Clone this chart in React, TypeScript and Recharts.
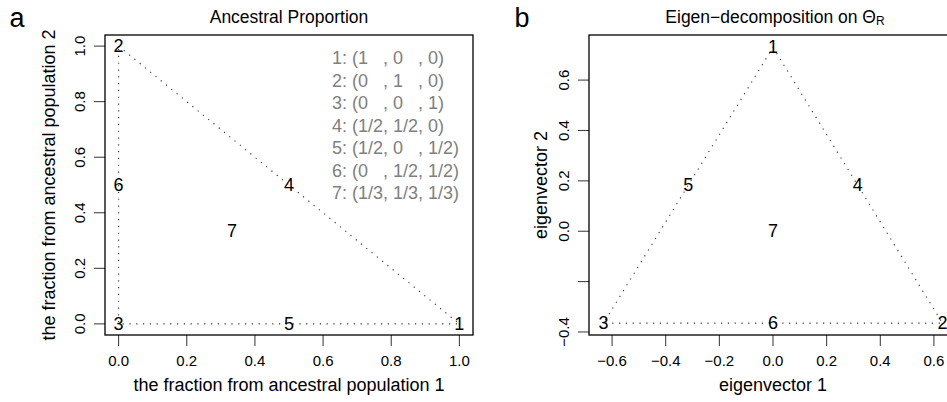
import { ScatterChart, Scatter, XAxis, YAxis } from "recharts";

// panel a: ancestral proportions
const ancLabels = ["1", "2", "3", "4", "5", "6", "7"];
const ancX = [1, 0, 0, 0.5, 0.5, 0, 0.333];
const ancY = [0, 1, 0, 0.5, 0, 0.5, 0.333];
const ancEdges = [1, 0, 2, 1]; // 2 -> 1 -> 3 -> 2
const ancTicks = [0, 0.2, 0.4, 0.6, 0.8, 1.0];

// panel b: eigen-decomposition
const eigLabels = ["1", "2", "3", "4", "5", "6", "7"];
const eigX = [0, 0.632, -0.632, 0.316, -0.316, 0, 0];
const eigY = [0.73, -0.365, -0.365, 0.1825, 0.1825, -0.365, 0];
const eigEdges = [0, 1, 2, 0];
const eigXTicks = [-0.6, -0.4, -0.2, 0, 0.2, 0.4, 0.6];
const eigYTicks = [-0.4, -0.2, 0, 0.2, 0.4, 0.6];
const eigYHidden = [-0.2];

const legendRows = [
  "1: (1   , 0   , 0)",
  "2: (0   , 1   , 0)",
  "3: (0   , 0   , 1)",
  "4: (1/2, 1/2, 0)",
  "5: (1/2, 0   , 1/2)",
  "6: (0   , 1/2, 1/2)",
  "7: (1/3, 1/3, 1/3)",
];

const FONT = "'Liberation Sans', Arial, Helvetica, sans-serif";
const DOT = { stroke: "#333", strokeWidth: 1.1, strokeDasharray: "1.2 5.6" };

const fmt = (v: number) => v.toFixed(1).replace("-", "\u2212");

function pts(labels: string[], xs: number[], ys: number[]) {
  return labels.map((l, i) => ({ label: l, x: xs[i], y: ys[i] }));
}

function XTick(p: any) {
  return (
    <text x={p.x} y={p.y + 14} textAnchor="middle" dominantBaseline="central"
      fontFamily={FONT} fontSize={15} fill="#000">{fmt(p.payload.value)}</text>
  );
}

function makeYTick(hidden: number[]) {
  return (p: any) => {
    const v = p.payload.value;
    if (hidden.some((h) => Math.abs(h - v) < 1e-9)) return <g />;
    const x = p.x - 14;
    return (
      <text x={x} y={p.y} transform={`rotate(-90 ${x} ${p.y})`} textAnchor="middle"
        dominantBaseline="central" fontFamily={FONT} fontSize={15} fill="#000">{fmt(v)}</text>
    );
  };
}

const labelShape = (p: any) => (
  <text x={p.cx} y={p.cy} textAnchor="middle" dominantBaseline="central"
    fontFamily={FONT} fontSize={18} fill="#000">{p.payload.label}</text>
);

function Panel(props: {
  left: number; width: number; margin: any; xDomain: number[]; yDomain: number[];
  xTicks: number[]; yTicks: number[]; yHidden: number[];
  labels: string[]; xs: number[]; ys: number[]; edges: number[];
}) {
  const points = pts(props.labels, props.xs, props.ys);
  const edges = props.edges.map((i) => points[i]);
  return (
    <div style={{ position: "absolute", left: props.left, top: 0 }}>
      <ScatterChart width={props.width} height={402} margin={props.margin}>
        <XAxis type="number" dataKey="x" domain={props.xDomain} allowDataOverflow ticks={props.xTicks}
          height={40} tickSize={11} tickMargin={0} axisLine={false}
          tickLine={{ stroke: "#333", strokeWidth: 1 }} tick={XTick} interval={0} />
        <YAxis type="number" dataKey="y" domain={props.yDomain} allowDataOverflow ticks={props.yTicks}
          width={50} tickSize={11} tickMargin={0} axisLine={false}
          tickLine={{ stroke: "#333", strokeWidth: 1 }} tick={makeYTick(props.yHidden)} interval={0} />
        <Scatter data={edges} line={DOT} shape={() => <g />} isAnimationActive={false} />
        <Scatter data={points} shape={labelShape} isAnimationActive={false} />
      </ScatterChart>
    </div>
  );
}

export default function App() {
  return (
    <div style={{ position: "absolute", left: 0, top: 0, width: 947, height: 402, overflow: "hidden", background: "#fff" }}>
      <Panel left={0} width={480} margin={{ top: 35, right: 7, bottom: 27, left: 55 }}
        xDomain={[-0.04, 1.04]} yDomain={[-0.04, 1.04]} xTicks={ancTicks} yTicks={ancTicks} yHidden={[]}
        labels={ancLabels} xs={ancX} ys={ancY} edges={ancEdges} />
      <Panel left={470} width={500} margin={{ top: 35, right: 13, bottom: 27, left: 69 }}
        xDomain={[-0.686, 0.686]} yDomain={[-0.412, 0.779]} xTicks={eigXTicks} yTicks={eigYTicks}
        yHidden={eigYHidden} labels={eigLabels} xs={eigX} ys={eigY} edges={eigEdges} />
      <svg width={947} height={402} style={{ position: "absolute", left: 0, top: 0, pointerEvents: "none" }}
        fontFamily={FONT}>
        <rect x={105} y={35} width={368} height={300} fill="none" stroke="#000" strokeWidth={1.3} />
        <rect x={589} y={35} width={368} height={300} fill="none" stroke="#000" strokeWidth={1.3} />
        <text x={17} y={27} fontSize={27} textAnchor="middle">a</text>
        <text x={522} y={27} fontSize={27} textAnchor="middle">b</text>
        <text x={289} y={17} fontSize={17.5} textAnchor="middle" dominantBaseline="central">Ancestral Proportion</text>
        <text x={775} y={17} fontSize={17.5} textAnchor="middle" dominantBaseline="central">
          Eigen{"\u2212"}decomposition on Θ<tspan fontSize={12} dy={4}>R</tspan>
        </text>
        {legendRows.map((r, i) => (
          <text key={r} x={332} y={58 + i * 22.5} fontSize={18} fill="#808080" dominantBaseline="central"
            style={{ whiteSpace: "pre" }}>{r}</text>
        ))}
        <text x={289} y={385} fontSize={18} textAnchor="middle" dominantBaseline="central">
          the fraction from ancestral population 1
        </text>
        <text x={49} y={185} fontSize={18} textAnchor="middle" dominantBaseline="central"
          transform="rotate(-90 49 185)">the fraction from ancestral population 2</text>
        <text x={773} y={385} fontSize={18} textAnchor="middle" dominantBaseline="central">eigenvector 1</text>
        <text x={541} y={185} fontSize={18} textAnchor="middle" dominantBaseline="central"
          transform="rotate(-90 541 185)">eigenvector 2</text>
      </svg>
    </div>
  );
}
